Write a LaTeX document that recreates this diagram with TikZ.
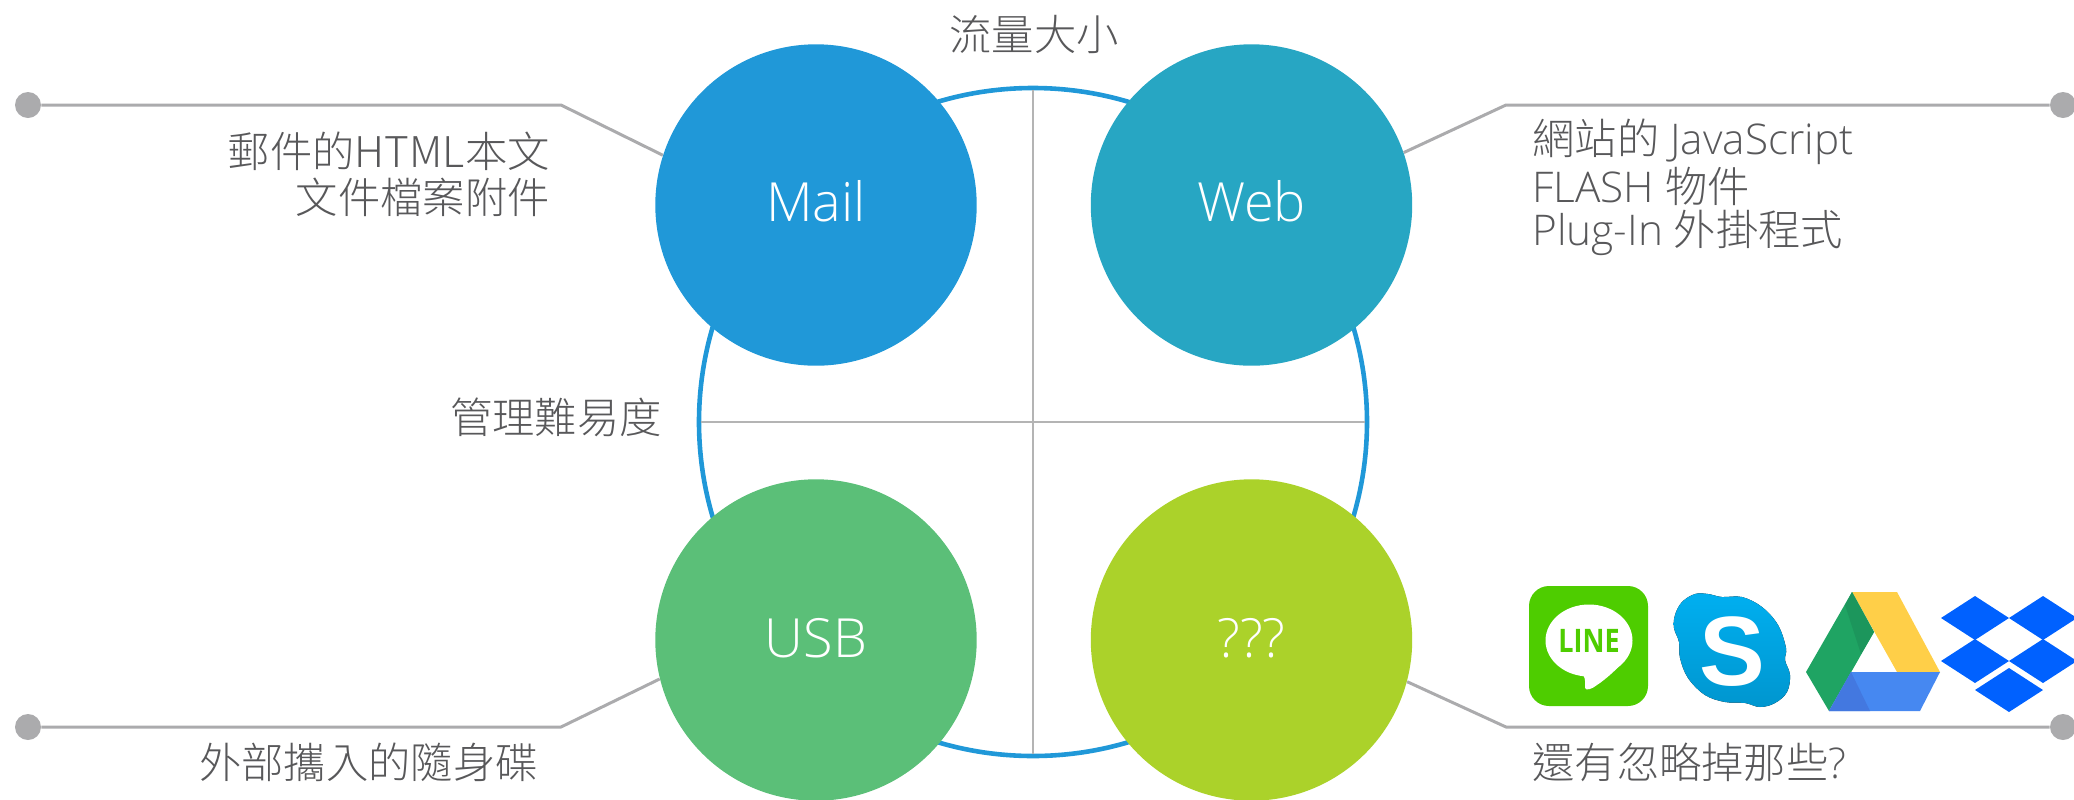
\documentclass[tikz,border=0pt]{standalone}
\usepackage{fontspec}
\setmainfont{Open Sans Light}
\newfontfamily\cjk{Noto Sans CJK TC Light}
\newfontfamily\boldsans{Open Sans}[UprightFont=*,BoldFont=* Bold]
\newfontfamily\skfont{Liberation Sans}
\definecolor{mailc}{HTML}{2098D8}
\definecolor{webc}{HTML}{27A6C3}
\definecolor{usbc}{HTML}{5BBF78}
\definecolor{unkc}{HTML}{ABD22A}
\definecolor{linec}{HTML}{ABABAD}
\definecolor{txt}{HTML}{58585A}
\definecolor{gridc}{HTML}{B4B4B4}
\definecolor{linegreen}{RGB}{78,205,0}
\definecolor{skya}{HTML}{00AFF0}
\definecolor{skyb}{HTML}{0096CF}
\definecolor{dbx}{HTML}{0061FF}
\tikzset{
  bubble/.style={circle,minimum size=160.7pt,inner sep=0pt,text=white,font=\fontsize{27}{31}\selectfont},
  pin/.style={circle,fill=linec,minimum size=13pt,inner sep=0pt},
  lead/.style={draw=linec,line width=1.5pt,line join=round},
  lbl/.style={text=txt,font=\fontsize{21.15}{23}\selectfont,inner sep=0pt},
  lblR/.style={lbl,anchor=east},
  lblL/.style={lbl,anchor=west},
  gridline/.style={draw=gridc,line width=0.6pt,shorten >=2pt,shorten <=2pt},
}
\begin{document}
\begin{tikzpicture}[x=0.5pt,y=-0.5pt]
\useasboundingbox (0,0) rectangle (2074,799);
% ring and cross
\node[circle,draw=mailc,line width=2.3pt,minimum size=334pt,inner sep=0pt] (ring) at (1033,422) {};
\draw[gridline] (ring.north) -- (ring.south);
\draw[gridline] (ring.west) -- (ring.east);
% circles
\node[bubble,fill=mailc] (mail) at (816,205) {\raisebox{3.8pt}{Mail}};
\node[bubble,fill=webc] (web) at (1251.5,205) {\raisebox{3.8pt}{Web}};
\node[bubble,fill=usbc] (usb) at (816,640) {\raisebox{2pt}{USB}};
\node[bubble,fill=unkc] (unk) at (1251.5,640) {\raisebox{2pt}{???}};
% pins
\node[pin] (p1) at (28,105) {};
\node[pin] (p2) at (2063,105) {};
\node[pin] (p3) at (28,727) {};
\node[pin] (p4) at (2063,727) {};
\coordinate (k1) at (561,105);
\coordinate (k2) at (1506,105);
\coordinate (k3) at (561,727);
\coordinate (k4) at (1506,727);
\draw[lead] (p1) -- (k1) -- (mail.162);
\draw[lead] (p2) -- (k2) -- (web.19);
\draw[lead] (p3) -- (k3) -- (usb.194);
\draw[lead] (p4) -- (k4) -- (unk.-15);
% labels
\node[lbl] (top) at (1034,34) {\cjk 流量大小};
\node[lblR] (left) at (662,417) {\cjk 管理難易度};
\node[lblR] (m1) at (550,151) {\cjk 郵件的HTML本文};
\node[lblR] (m2) at (550,197) {\cjk 文件檔案附件};
\node[lblL] (w1) at (1532,142) {{\cjk 網站的} JavaScript};
\node[lblL] (w2) at (1532,186) {FLASH {\cjk 物件}};
\node[lblL] (w3) at (1532,232.5) {Plug-In {\cjk 外掛程式}};
\node[lbl] (u1) at (368.5,762) {\cjk 外部攜入的隨身碟};
\node[lblL] (q1) at (1532,762) {{\cjk 還有忽略掉那些}?};
% LINE icon
\fill[linegreen,rounded corners=10pt] (1529,586) rectangle (1648,706);
\fill[white] (1589,640.5) ellipse[x radius=43.5,y radius=36];
\fill[white] (1570,670) -- (1583,675) .. controls (1586,679) and (1585,684) .. (1585,688) .. controls (1586,691) and (1592,689) .. (1597,685) .. controls (1606,679) and (1616,670) .. (1625,660) -- cycle;
\node[inner sep=0pt,text=linegreen,font=\boldsans\bfseries\fontsize{13.5}{14}\selectfont] (linetext) at (1589,641) {\scalebox{1}[1.2]{LINE}};
% Skype icon
\fill[top color=skya,bottom color=skyb]
  plot[smooth cycle,tension=0.6] coordinates {(1675,615) (1682,602) (1695,594) (1708,594) (1722,597) (1742,597) (1762,607) (1778,625) (1786,648) (1785,660) (1790,675) (1787,692) (1775,703) (1760,707) (1745,703) (1725,702) (1705,695) (1688,678) (1680,658) (1679,642) (1674,628)};
\node[inner sep=0pt,text=white,font=\skfont\bfseries\fontsize{44}{46}\selectfont] (skypes) at (1732,652) {\scalebox{1.12}[1.12]{S}};
% Drive icon
\fill[fill={rgb,255:red,255;green,207;blue,72}] (1852,592) -- (1897,592) -- (1940,672) -- (1897,672) -- cycle;
\fill[fill={rgb,255:red,31;green,164;blue,99}] (1852,592) -- (1874,632) -- (1829,711) -- (1806,672) -- cycle;
\fill[fill={rgb,255:red,70;green,136;blue,241}] (1851,672) -- (1940,672) -- (1920,711) -- (1829,711) -- cycle;
\fill[fill={rgb,255:red,28;green,150;blue,92}] (1852,592) -- (1874,632) -- (1861,654) -- (1845,605) -- cycle;
\fill[fill={rgb,255:red,67;green,120;blue,224}] (1851,672) -- (1870,711) -- (1829,711) -- cycle;
% Dropbox icon
\foreach \cx/\cy in {1975/618,2043/618,1975/661,2043/661,2009/690}
  \fill[dbx] (\cx-34,\cy) -- (\cx,\cy-22) -- (\cx+34,\cy) -- (\cx,\cy+22) -- cycle;
\end{tikzpicture}
\end{document}
